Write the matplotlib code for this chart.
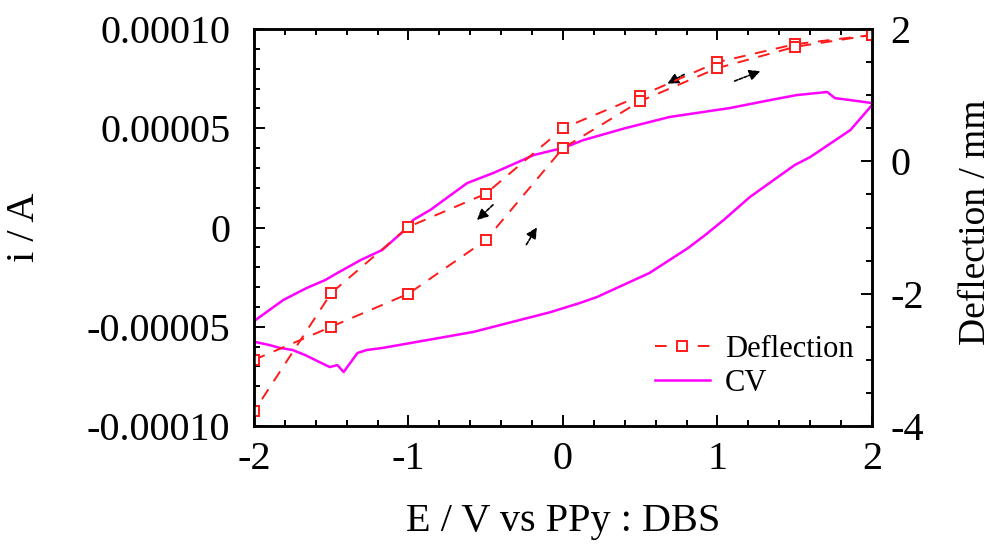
import matplotlib
matplotlib.use("Agg")
import matplotlib.pyplot as plt
from matplotlib.ticker import MultipleLocator, FixedLocator, FixedFormatter
from matplotlib.lines import Line2D

plt.rcParams['font.family'] = ['Liberation Serif', 'DejaVu Serif']
plt.rcParams['axes.unicode_minus'] = False

# CV data (E / V, i / A)
cv_fwd_E = [-1.99, -1.81, -1.66, -1.54, -1.46, -1.31, -1.17, -1.01, -0.97, -0.86, -0.62, -0.45,
            -0.29, -0.19, -0.06, 0.0, 0.13, 0.40, 0.69, 1.08, 1.34, 1.51, 1.71, 1.76, 1.86, 2.0]
cv_fwd_i = [-4.66e-5, -3.65e-5, -3.05e-5, -2.65e-5, -2.29e-5, -1.64e-5, -1.13e-5, -0.03e-5, 0.38e-5,
            0.88e-5, 2.24e-5, 2.75e-5, 3.30e-5, 3.65e-5, 3.90e-5, 4.00e-5, 4.40e-5, 5.00e-5, 5.57e-5,
            6.02e-5, 6.42e-5, 6.67e-5, 6.83e-5, 6.52e-5, 6.42e-5, 6.27e-5]
cv_rev_E = [2.0, 1.86, 1.60, 1.50, 1.21, 1.04, 0.92, 0.81, 0.56, 0.22, 0.11, -0.08, -0.58, -1.17,
            -1.27, -1.33, -1.42, -1.46, -1.51, -1.67, -1.75, -1.83, -1.90, -1.99]
cv_rev_i = [6.17e-5, 4.91e-5, 3.55e-5, 3.15e-5, 1.54e-5, 0.38e-5, -0.38e-5, -1.03e-5, -2.29e-5,
            -3.50e-5, -3.80e-5, -4.26e-5, -5.26e-5, -6.07e-5, -6.17e-5, -6.32e-5, -7.28e-5, -6.93e-5,
            -7.03e-5, -6.42e-5, -6.17e-5, -6.07e-5, -5.92e-5, -5.77e-5]

# Deflection data (E / V, deflection / mm)
defl_a_E = [2.0, 1.5, 1.0, 0.5, 0.0, -0.5, -1.0, -1.5, -2.0]
defl_a_d = [1.91, 1.77, 1.50, 0.99, 0.50, -0.49, -0.99, -1.99, -3.78]
defl_b_E = [-2.0, -1.5, -1.0, -0.5, 0.0, 0.5, 1.0, 1.5, 2.0]
defl_b_d = [-3.0, -2.5, -2.0, -1.19, 0.20, 0.91, 1.41, 1.73, 1.91]

x_ticks = [-2, -1, 0, 1, 2]
x_labels = ['-2', '-1', '0', '1', '2']
i_ticks = [-1e-4, -5e-5, 0, 5e-5, 1e-4]
i_labels = ['-0.00010', '-0.00005', '0', '0.00005', '0.00010']
d_ticks = [-4, -2, 0, 2]
d_labels = ['-4', '-2', '0', '2']

fig = plt.figure(figsize=(9.96, 5.48), dpi=100)
ax = fig.add_axes([0.255, 0.2226, 0.6205, 0.7244])
ax2 = ax.twinx()

cv_E = cv_fwd_E + cv_rev_E
cv_i = cv_fwd_i + cv_rev_i
ax.plot(cv_E, cv_i, color='#ff00ff', lw=1.8)

dstyle = dict(color='#ff1a1a', ls=(0, (6, 5)), lw=1.4, marker='s', ms=6.5,
              mfc='white', mec='#ff1a1a', mew=1.4)
ax2.plot(defl_a_E, defl_a_d, **dstyle)
ax2.plot(defl_b_E, defl_b_d, **dstyle)

ax.set_xlim(-2, 2)
ax.set_ylim(-1e-4, 1e-4)
ax2.set_ylim(-4, 2)

ax.xaxis.set_major_locator(FixedLocator(x_ticks))
ax.xaxis.set_major_formatter(FixedFormatter(x_labels))
ax.xaxis.set_minor_locator(MultipleLocator(0.2))
ax.yaxis.set_major_locator(FixedLocator(i_ticks))
ax.yaxis.set_major_formatter(FixedFormatter(i_labels))
ax.yaxis.set_minor_locator(MultipleLocator(1e-5))
ax2.yaxis.set_major_locator(FixedLocator(d_ticks))
ax2.yaxis.set_major_formatter(FixedFormatter(d_labels))
ax2.yaxis.set_minor_locator(MultipleLocator(0.5))

for a in (ax, ax2):
    a.tick_params(which='both', direction='in', width=1.4, labelsize=29)
    a.tick_params(which='major', length=8)
    a.tick_params(which='minor', length=4)
    for s in a.spines.values():
        s.set_linewidth(1.8)
ax.tick_params(which='both', top=True, right=False)
ax.tick_params(axis='x', pad=11)
ax.tick_params(axis='y', pad=17)
ax2.tick_params(axis='y', pad=13)

ax.set_xlabel('E / V vs PPy : DBS', fontsize=29, labelpad=18)
fig.text(25 / 996, 1 - 227 / 548, 'i / A', fontsize=29, rotation=90, ha='center', va='center')
fig.text(976 / 996, 1 - 222 / 548, 'Deflection / mm', fontsize=27, rotation=90,
         ha='center', va='center')

# arrows (direction of scan)
arr = dict(arrowstyle='-|>', color='black', lw=1.2, ls=(0, (2, 1)), mutation_scale=16)
ax.annotate('', xy=(-0.57, 0.28e-5), xytext=(-0.44, 1.24e-5), arrowprops=arr)
ax.annotate('', xy=(-0.16, 0.13e-5), xytext=(-0.246, -0.98e-5), arrowprops=arr)
ax.annotate('', xy=(0.66, 7.18e-5), xytext=(0.80, 7.78e-5), arrowprops=arr)
ax.annotate('', xy=(1.294, 7.93e-5), xytext=(1.094, 7.33e-5), arrowprops=arr)

h1 = Line2D([], [], **dstyle)
h2 = Line2D([], [], color='#ff00ff', lw=1.8)
ax.legend([h1, h2], ['Deflection', 'CV'], loc='lower right', frameon=False, fontsize=22,
          bbox_to_anchor=(1.0, 0.025), handlelength=1.8, handletextpad=0.5, labelspacing=0.15,
          borderaxespad=0.2)

fig.savefig('out.png', dpi=100)
